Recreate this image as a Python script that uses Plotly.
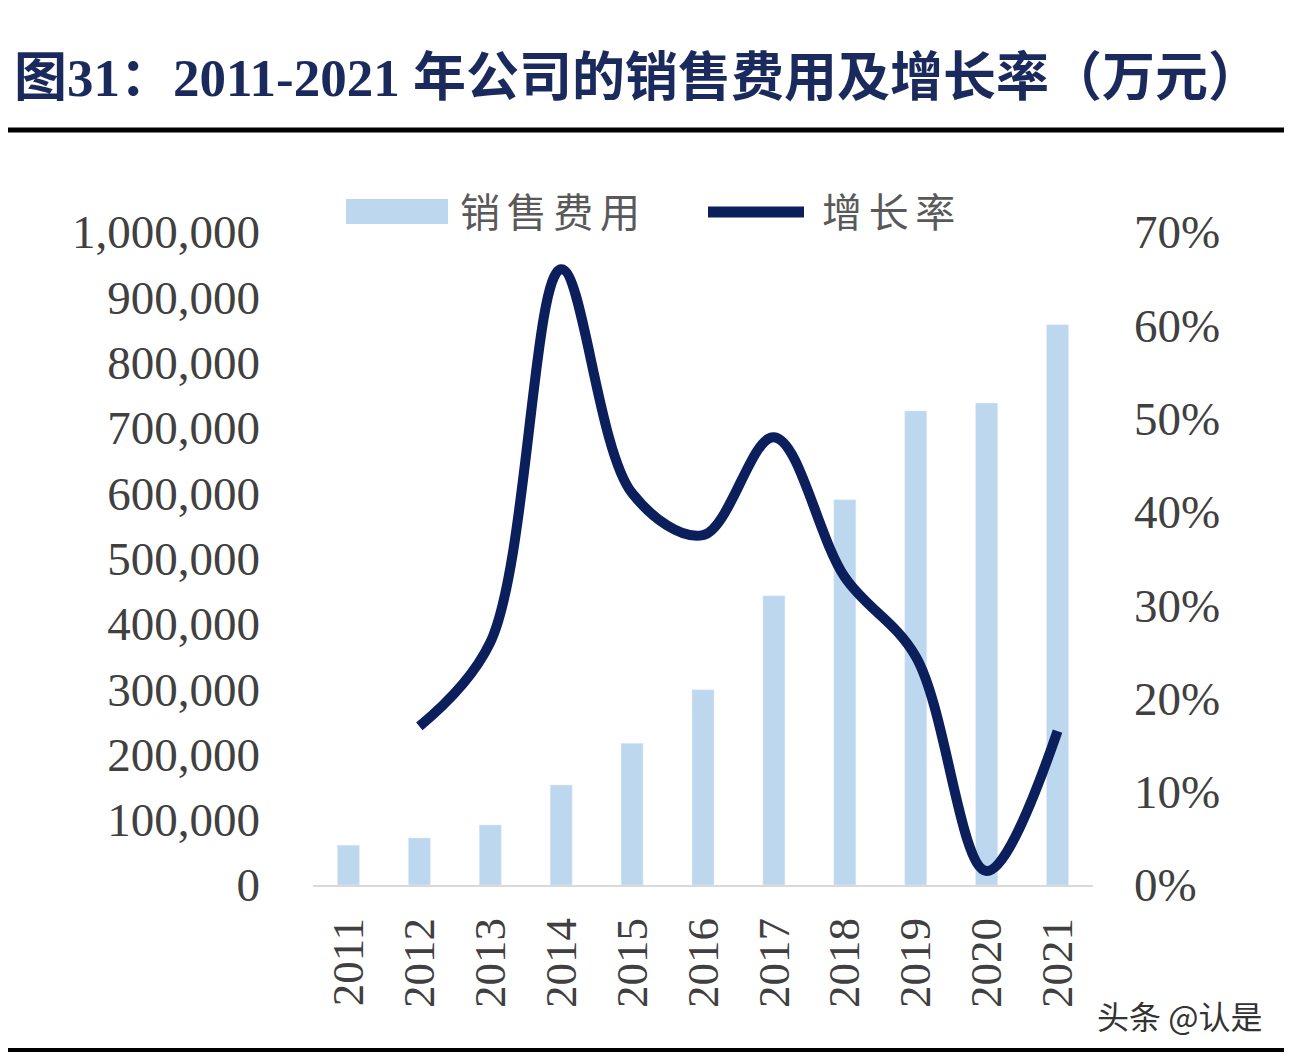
import plotly.graph_objects as go

years = ['2011', '2012', '2013', '2014', '2015', '2016',
         '2017', '2018', '2019', '2020', '2021']
# sales expenses, 10k yuan
sales = [61000, 72000, 92000, 153000, 217000, 299000,
         443000, 590000, 726000, 738000, 858000]
# growth rate (2011 has none)
growth_years = years[1:]
growth = [0.17, 0.26, 0.66, 0.42, 0.375, 0.48, 0.33, 0.245, 0.015, 0.165]

left_ticks = [0, 100000, 200000, 300000, 400000, 500000,
              600000, 700000, 800000, 900000, 1000000]
right_ticks = [0, 0.1, 0.2, 0.3, 0.4, 0.5, 0.6, 0.7]

BAR = '#bdd7ee'
NAVY = '#0b1f5c'
SERIF = 'Liberation Serif, Times New Roman, serif'
CJK = 'Noto Sans CJK SC'

fig = go.Figure()
fig.add_trace(go.Bar(x=years, y=sales, marker_color=BAR, width=0.31,
                     name='销售费用', showlegend=False))
fig.add_trace(go.Scatter(x=growth_years, y=growth, yaxis='y2', mode='lines',
                         line=dict(color=NAVY, width=10, shape='spline', smoothing=1.0),
                         name='增长率', showlegend=False))

# page has an 8px body margin, so the figure is drawn 8px in from the corner
OFF = 8
W, H = 1292 - OFF, 1060 - OFF
L, R, T, B = 313 - OFF, 1093 - OFF, 232 - OFF, 885 - OFF


def px(x):
    # x given in page pixels
    return (x - OFF - L) / (R - L)


def py(y):
    return (B - (y - OFF)) / (B - T)


shapes = [
    # legend swatches
    dict(type='rect', xref='paper', yref='paper', x0=px(346), x1=px(448),
         y0=py(224), y1=py(199), fillcolor=BAR, line_width=0),
    dict(type='line', xref='paper', yref='paper', x0=px(708), x1=px(804),
         y0=py(212), y1=py(212), line=dict(color=NAVY, width=11)),
    # rules under title and at bottom
    dict(type='line', xref='paper', yref='paper', x0=px(OFF), x1=px(1292),
         y0=py(130), y1=py(130), line=dict(color='black', width=5)),
    dict(type='line', xref='paper', yref='paper', x0=px(OFF), x1=px(1292),
         y0=py(1050), y1=py(1050), line=dict(color='black', width=4)),
]

annotations = [
    dict(text='<b>图31：2011-2021 年公司的销售费用及增长率（万元）</b>',
         xref='paper', yref='paper', x=px(12), y=py(78), xanchor='left', yanchor='middle',
         showarrow=False,
         font=dict(family='Liberation Serif, ' + CJK, size=53, color='#1b2a5c')),
    dict(text='销\u2006售\u2006费\u2006用', xref='paper', yref='paper', x=px(458), y=py(210),
         xanchor='left', yanchor='middle', showarrow=False,
         font=dict(family=CJK, size=40, color='#595959')),
    dict(text='增\u2006长\u2006率', xref='paper', yref='paper', x=px(820), y=py(210),
         xanchor='left', yanchor='middle', showarrow=False,
         font=dict(family=CJK, size=40, color='#595959')),
    dict(text='头条 @认是', xref='paper', yref='paper', x=px(1264), y=py(1015),
         xanchor='right', yanchor='middle', showarrow=False,
         font=dict(family=CJK, size=32, color='#333333')),
]

fig.update_layout(
    width=W, height=H,
    margin=dict(l=L, r=W - R, t=T, b=H - B),
    paper_bgcolor='white', plot_bgcolor='white',
    shapes=shapes, annotations=annotations,
    xaxis=dict(type='category', range=[-0.5, 10.5], tickangle=-90,
               showgrid=False, showline=True, linecolor='#d9d9d9', linewidth=2,
               ticks='', tickfont=dict(family=SERIF, size=45, color='#404040'),
               ticklabelstandoff=13),
    yaxis=dict(range=[0, 1000000], tickvals=left_ticks, tickformat=',d',
               showgrid=False, zeroline=False, showline=False, ticks='',
               tickfont=dict(family=SERIF, size=47, color='#404040'),
               ticklabelstandoff=52),
    yaxis2=dict(range=[0, 0.7], tickvals=right_ticks, tickformat='.0%',
                overlaying='y', side='right', showgrid=False, zeroline=False,
                showline=False, ticks='',
                tickfont=dict(family=SERIF, size=47, color='#404040'),
                ticklabelstandoff=40),
    bargap=0.6,
)

fig.write_html('out.html')
